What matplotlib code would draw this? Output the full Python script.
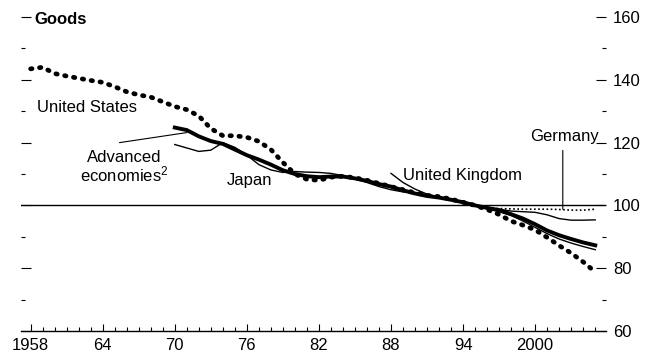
import matplotlib
matplotlib.use("Agg")
import matplotlib.pyplot as plt
from matplotlib.ticker import MultipleLocator

plt.rcParams['font.family'] = ['Liberation Sans', 'DejaVu Sans']
plt.rcParams['mathtext.fontset'] = 'custom'
plt.rcParams['mathtext.rm'] = 'Liberation Sans'
plt.rcParams['mathtext.it'] = 'Liberation Sans'

# relative price of goods, index 1995 = 100
us_years = list(range(1958, 2006))
us_vals = [143.5, 144.0, 142.0, 141.2, 140.5, 139.8, 139.2, 137.8, 136.2, 135.2,
           134.5, 133.0, 131.5, 130.5, 128.5, 124.5, 122.2, 122.2, 121.7, 120.4,
           117.8, 113.7, 110.0, 108.3, 108.0, 109.0, 109.3, 108.8, 108.0, 107.0,
           106.0, 105.0, 104.0, 103.2, 102.8, 102.0, 101.0, 100.0, 98.7, 97.1,
           95.0, 93.7, 92.2, 89.8, 87.2, 84.8, 82.0, 78.8]

adv_years = list(range(1970, 2006))
adv_vals = [124.8, 124.0, 122.0, 120.5, 119.6, 117.8, 116.0, 114.6, 113.0, 111.2,
            110.0, 109.3, 109.0, 109.2, 109.2, 108.6, 107.8, 106.8, 106.0, 104.8,
            103.8, 103.0, 102.5, 101.8, 101.0, 100.0, 99.2, 98.5, 97.2, 95.8,
            94.0, 92.0, 90.5, 89.3, 88.2, 87.3]

jp_years = list(range(1970, 2006))
jp_vals = [119.4, 118.3, 117.2, 117.6, 120.0, 118.5, 116.0, 113.0, 111.3, 110.5,
           110.8, 110.6, 110.5, 110.2, 109.5, 108.5, 107.3, 106.0, 105.0, 104.3,
           104.0, 103.2, 102.6, 101.8, 101.0, 100.0, 99.3, 98.8, 98.2, 98.0,
           97.8, 97.0, 95.8, 95.3, 95.3, 95.4]

uk_years = list(range(1988, 2006))
uk_vals = [110.2, 107.3, 105.2, 103.6, 102.7, 101.8, 101.0, 100.0, 99.0, 98.0,
           96.8, 95.0, 93.0, 91.0, 89.3, 88.0, 86.9, 85.9]

de_years = list(range(1991, 2006))
de_vals = [103.3, 102.6, 101.8, 101.0, 100.0, 99.3, 99.0, 98.9, 98.8, 98.8,
           98.8, 98.7, 98.5, 98.5, 98.8]

x_ticks = [1958, 1964, 1970, 1976, 1982, 1988, 1994, 2000]
x_labels = ['1958', '64', '70', '76', '82', '88', '94', '2000']
y_ticks = [60, 80, 100, 120, 140, 160]

fig = plt.figure(figsize=(6.52, 3.58), dpi=100)
ax = fig.add_axes([0.0322, 0.0754, 0.8973, 0.877])

ax.axhline(100, color='black', lw=1.0, zorder=1)

ax.plot(us_years, us_vals, color='black', lw=3.4, linestyle=(0, (0.3, 1.6)),
        dash_capstyle='round', solid_capstyle='round')
ax.plot(adv_years, adv_vals, color='black', lw=2.8)
ax.plot(jp_years, jp_vals, color='black', lw=1.0)
ax.plot(uk_years, uk_vals, color='black', lw=1.0)
ax.plot(de_years, de_vals, color='black', lw=1.2, linestyle=(0, (1, 1.5)))

ax.set_xlim(1957.2, 2005.9)
ax.set_ylim(60, 160)

# labels
ax.text(1958.3, 159.3, 'Goods', fontsize=12, fontweight='bold', va='center', ha='left')
ax.text(1958.5, 131.3, 'United States', fontsize=12, va='center', ha='left')
ax.text(1965.8, 113.8, 'Advanced', fontsize=12, va='baseline', ha='center')
ax.text(1965.8, 107.5, 'economies$^2$', fontsize=12, va='baseline', ha='center')
ax.text(1974.3, 106.5, 'Japan', fontsize=12, va='baseline', ha='left')
ax.text(1989.0, 108.1, 'United Kingdom', fontsize=12, va='baseline', ha='left')
ax.text(1999.6, 120.5, 'Germany', fontsize=12, va='baseline', ha='left')

ax.annotate('', xy=(1971.0, 123.2), xytext=(1965.4, 120.0),
            arrowprops=dict(arrowstyle='-', lw=0.8, color='black',
                            shrinkA=0, shrinkB=0))
ax.annotate('', xy=(2002.3, 98.8), xytext=(2002.3, 117.5),
            arrowprops=dict(arrowstyle='-', lw=0.8, color='black',
                            shrinkA=0, shrinkB=0))

# axes styling
for s in ['top', 'left', 'right']:
    ax.spines[s].set_visible(False)
ax.spines['bottom'].set_linewidth(1.0)

ax.set_xticks(x_ticks)
ax.set_xticklabels(x_labels, fontsize=12)
ax.xaxis.set_minor_locator(MultipleLocator(1))
ax.tick_params(axis='x', which='major', direction='in', length=5, width=0.8, pad=5)
ax.tick_params(axis='x', which='minor', direction='in', length=3, width=0.8)

ax.yaxis.tick_right()
ax.set_yticks(y_ticks)
ax.set_yticklabels([str(v) for v in y_ticks], fontsize=12)
ax.yaxis.set_minor_locator(MultipleLocator(10))
ax.tick_params(axis='y', which='major', direction='in', length=7, width=0.8, pad=5,
               left=True, right=True)
ax.tick_params(axis='y', which='minor', direction='in', length=3, width=0.8,
               left=True, right=True)

fig.savefig('out.png', dpi=100)
